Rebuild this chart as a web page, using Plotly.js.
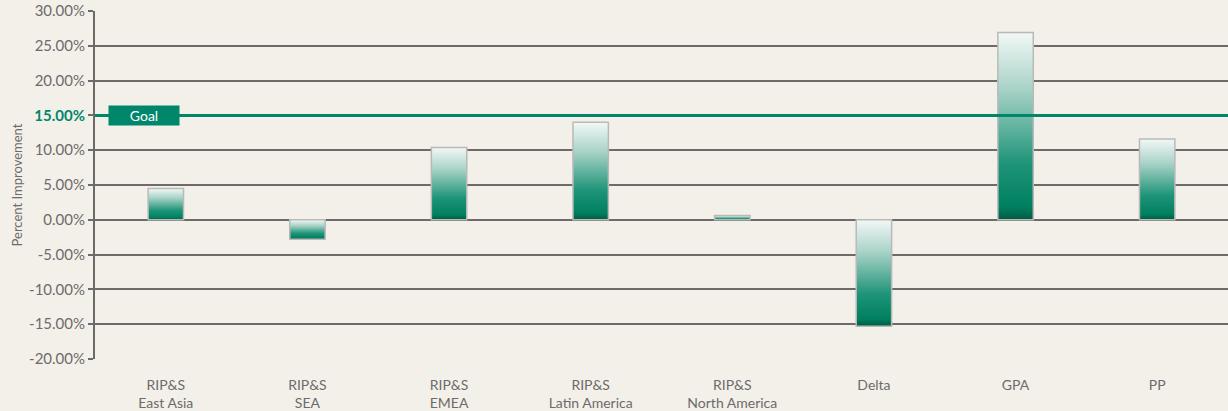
<!DOCTYPE html>
<html>
<head>
<meta charset="utf-8">
<script src="https://cdn.plot.ly/plotly-3.0.1.min.js"></script>
<style>
  html, body { margin: 0; padding: 0; background: #f3f0ea; }
  #chart { width: 1228px; height: 411px; }
</style>
</head>
<body>
<div id="chart"></div>
<script>
var regions = ['RIP&S<br>East Asia', 'RIP&S<br>SEA', 'RIP&S<br>EMEA', 'RIP&S<br>Latin America',
               'RIP&S<br>North America', 'Delta', 'GPA', 'PP'];
var improvement = [4.5, -2.8, 10.4, 14.0, 0.6, -15.3, 26.9, 11.6];
var goalValue = 15;
var tickValues = [-20, -15, -10, -5, 0, 5, 10, 15, 20, 25, 30];
var tickLabels = ['-20.00%', '-15.00%', '-10.00%', '-5.00%', '0.00%', '5.00%', '10.00%',
                  '<b><span style="color:#00866a">15.00%</span></b>', '20.00%', '25.00%', '30.00%'];

var teal = '#00866a';
var gray = '#6e6a69';

var trace1 = {
  x: regions,
  y: improvement,
  type: 'bar',
  width: 0.25,
  marker: {color: teal, line: {color: '#b9b9b9', width: 1.5}},
  hoverinfo: 'x+y'
};

var layout = {
  width: 1228,
  height: 411,
  margin: {l: 95, r: 0, t: 11, b: 52},
  paper_bgcolor: '#f3f0ea',
  plot_bgcolor: '#f3f0ea',
  font: {family: 'Lato, sans-serif', color: gray},
  showlegend: false,
  xaxis: {
    showgrid: false,
    showline: false,
    zeroline: false,
    ticks: '',
    ticklabelstandoff: 16,
    tickfont: {size: 14, color: gray}
  },
  yaxis: {
    range: [-20, 30],
    tickvals: tickValues,
    ticktext: tickLabels,
    tickfont: {size: 15, color: gray},
    showgrid: true,
    gridcolor: gray,
    gridwidth: 2,
    zeroline: true,
    zerolinecolor: gray,
    zerolinewidth: 2,
    showline: true,
    linecolor: gray,
    linewidth: 2,
    ticks: 'outside',
    ticklen: 5,
    tickwidth: 2,
    tickcolor: gray,
    title: {text: 'Percent Improvement', font: {size: 13, color: gray}, standoff: 4}
  },
  shapes: [{
    type: 'line', xref: 'paper', yref: 'y',
    x0: 0, x1: 1, y0: goalValue, y1: goalValue,
    line: {color: teal, width: 3}
  }],
  annotations: [{
    xref: 'paper', yref: 'y', x: 0.0118, y: goalValue,
    xanchor: 'left', yanchor: 'middle',
    text: 'Goal', showarrow: false,
    font: {size: 14, color: '#ffffff'},
    bgcolor: teal, width: 66, height: 15, borderpad: 2
  }]
};

Plotly.newPlot('chart', [trace1], layout, {displayModeBar: false}).then(function(gd){
  // vertical white-to-teal gradient on the bars
  var svgNS = 'http://www.w3.org/2000/svg';
  var svg = gd.querySelector('.main-svg');
  var defs = svg.querySelector('defs') || svg.insertBefore(document.createElementNS(svgNS, 'defs'), svg.firstChild);
  var grad = document.createElementNS(svgNS, 'linearGradient');
  grad.setAttribute('id', 'barGrad');
  grad.setAttribute('x1', '0'); grad.setAttribute('y1', '0');
  grad.setAttribute('x2', '0'); grad.setAttribute('y2', '1');
  var stops = [[0, '#f2f8f6'], [0.3, '#a9d3c7'], [0.7, '#1e9478'], [0.93, '#00805f'], [1, '#005a44']];
  stops.forEach(function(s){
    var st = document.createElementNS(svgNS, 'stop');
    st.setAttribute('offset', s[0]);
    st.setAttribute('stop-color', s[1]);
    grad.appendChild(st);
  });
  defs.appendChild(grad);
  gd.querySelectorAll('.bars .point path').forEach(function(p){
    p.style.fill = 'url(#barGrad)';
    p.style.fillOpacity = 1;
  });
});
</script>
</body>
</html>
